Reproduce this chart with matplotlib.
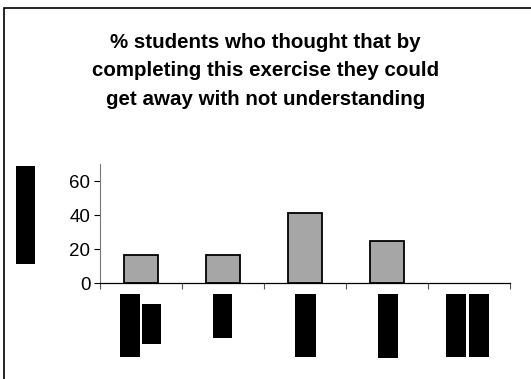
import matplotlib.pyplot as plt
import numpy as np
from matplotlib.patches import Rectangle

categories = ["A", "B", "C", "D", "E"]
percent_students = [16.7, 16.7, 41.2, 25.0, 0.0]
y_ticks = [0, 20, 40, 60]
title = (
    "% students who thought that by\n"
    "completing this exercise they could\n"
    "get away with not understanding"
)

W, H = 531, 379


def px_box(x0, y0, x1, y1):
    """Pixel box (top-left origin) to figure fractions."""
    return x0 / W, 1 - y1 / H, (x1 - x0) / W, (y1 - y0) / H


plt.rcParams["font.family"] = ["Liberation Sans", "DejaVu Sans"]

fig = plt.figure(figsize=(W / 100, H / 100), dpi=100)
ax = fig.add_axes(px_box(100, 164, 510, 283))

x = np.arange(len(categories))
bars = ax.bar(
    x,
    percent_students,
    width=0.42,
    color="#a6a6a6",
    edgecolor="black",
    linewidth=1.3,
    zorder=2,
)
# empty categories get no outline
for bar, value in zip(bars, percent_students):
    if value == 0:
        bar.set_visible(False)

ax.set_xlim(-0.5, len(categories) - 0.5)
ax.set_ylim(0, 70)
ax.set_yticks(y_ticks)
ax.set_xticks(np.arange(len(categories) + 1) - 0.5)
ax.set_xticklabels([])
ax.tick_params(axis="y", labelsize=13.5, length=4, width=0.8, pad=3)
ax.tick_params(axis="x", length=4, width=0.8, color="#555555")
for side in ("top", "right"):
    ax.spines[side].set_visible(False)
ax.spines["left"].set_color("#777777")
ax.spines["left"].set_linewidth(0.8)
ax.spines["bottom"].set_linewidth(0.9)

fig.text(
    0.5,
    1 - 71 / H,
    title,
    ha="center",
    va="center",
    fontsize=14.8,
    fontweight="bold",
    linespacing=1.62,
)

# blacked-out axis label and category labels
blocks = [
    (16, 166, 35, 264),
    (120, 294, 140, 357),
    (142, 304, 161, 344),
    (213, 294, 232, 338),
    (295, 294, 316, 357),
    (378, 294, 398, 358),
    (446, 294, 466, 357),
    (469, 294, 489, 357),
]
for b in blocks:
    fig.add_artist(
        Rectangle(
            px_box(*b)[:2],
            *px_box(*b)[2:],
            transform=fig.transFigure,
            facecolor="black",
            edgecolor="none",
        ),
    )

# outer frame, runs off the right and bottom edges
fig.add_artist(
    Rectangle(
        px_box(4, 8, 600, 450)[:2],
        *px_box(4, 8, 600, 450)[2:],
        transform=fig.transFigure,
        facecolor="none",
        edgecolor="black",
        linewidth=1.2,
    ),
)

fig.savefig("out.png", dpi=100)
